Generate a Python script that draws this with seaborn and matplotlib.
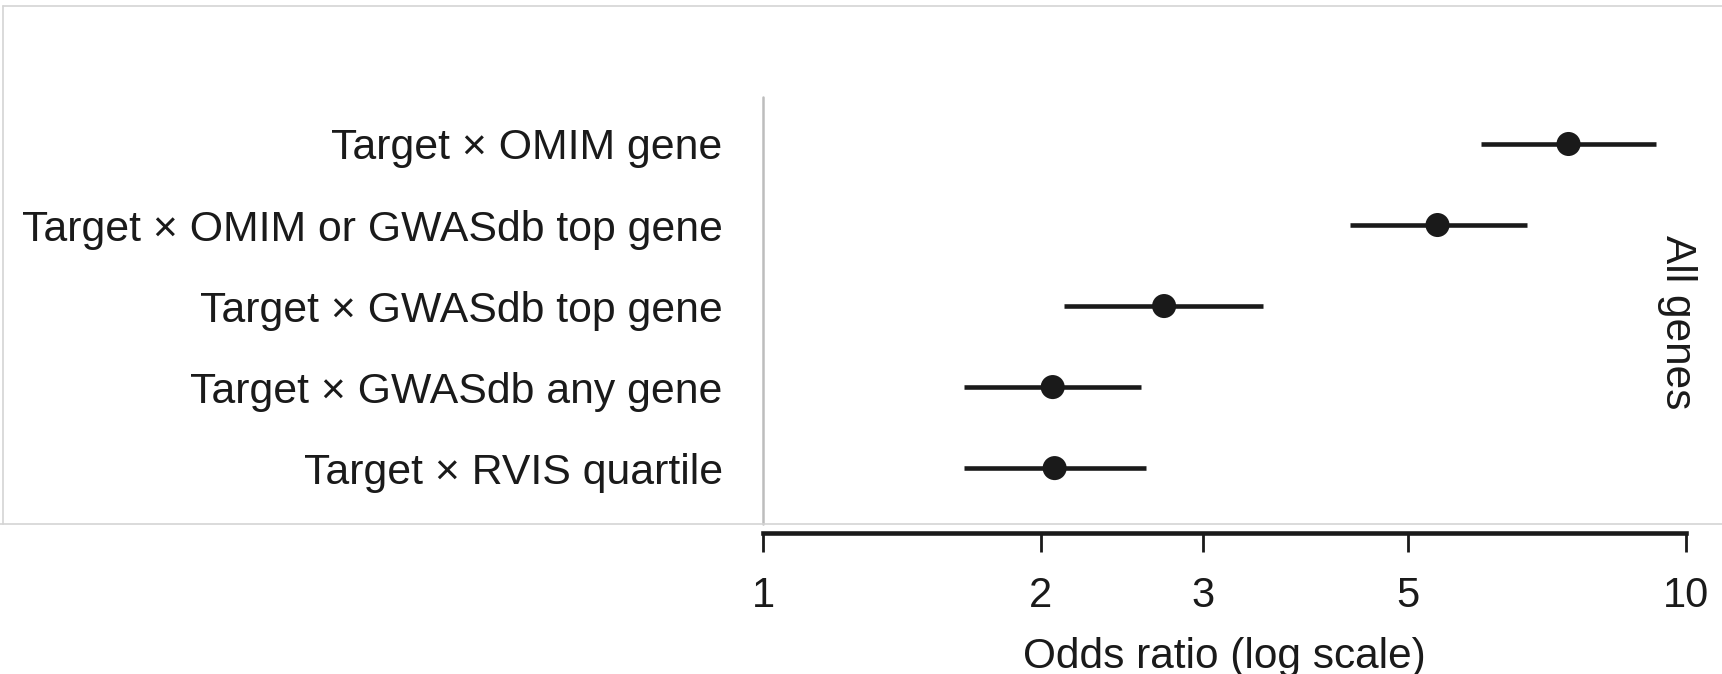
import matplotlib
matplotlib.use("Agg")
import matplotlib.pyplot as plt
import seaborn as sns
import pandas as pd
from matplotlib.lines import Line2D
from matplotlib.ticker import NullLocator

# ---- data ----
labels = [
    "Target \u00d7 OMIM gene",
    "Target \u00d7 OMIM or GWASdb top gene",
    "Target \u00d7 GWASdb top gene",
    "Target \u00d7 GWASdb any gene",
    "Target \u00d7 RVIS quartile",
]
odds = [7.46, 5.38, 2.72, 2.06, 2.07]
ci_low = [6.00, 4.32, 2.12, 1.65, 1.65]
ci_high = [9.29, 6.72, 3.48, 2.57, 2.60]
tick_values = [1, 2, 3, 5, 10]
tick_labels = ["1", "2", "3", "5", "10"]
x_title = "Odds ratio (log scale)"
facet_label = "All genes"

sns.set_style("white")
plt.rcParams["font.family"] = ["Liberation Sans", "DejaVu Sans"]

W, H = 1722, 674
fig = plt.figure(figsize=(W / 100, H / 100), dpi=100)
fig.patch.set_facecolor("white")

top_px, bot_px, left_px, right_px = 97, 524, 763, 1686
ax = fig.add_axes([left_px / W, 1 - bot_px / H, (right_px - left_px) / W, (bot_px - top_px) / H])
ax.set_facecolor("none")
ax.set_xscale("log")

df = pd.DataFrame({"label": labels, "odds": odds, "lo": ci_low, "hi": ci_high})

ink = "#1a1a1a"
sns.scatterplot(data=df, x="odds", y="label", s=300, color=ink, edgecolor="none",
                ax=ax, zorder=3, legend=False)
ax.hlines(y=df["label"], xmin=df["lo"], xmax=df["hi"], color=ink, lw=3.3, zorder=2)
ax.axvline(1, color="#bdbdbd", lw=1.8, clip_on=False, zorder=1)

ax.set_xlim(1, 10)
ax.set_ylim(4.69, -0.58)
ax.set_xticks(tick_values, tick_labels)
ax.xaxis.set_minor_locator(NullLocator())

for s in ["top", "right", "left"]:
    ax.spines[s].set_visible(False)
ax.spines["bottom"].set_position(("outward", 6.5))
ax.spines["bottom"].set_linewidth(3.3)
ax.spines["bottom"].set_color(ink)
ax.spines["bottom"].set_capstyle("projecting")

ax.tick_params(axis="x", which="major", bottom=True, direction="out", length=14, width=2,
               color=ink, labelsize=30, pad=17, labelcolor=ink)
ax.tick_params(axis="y", left=False, length=0, pad=29, labelsize=30.8, labelcolor=ink)
ax.set_ylabel("")
ax.set_xlabel(x_title, fontsize=30.5, color=ink, labelpad=15)

# panel border (light gray)
bc = "#d4d4d4"
fig.add_artist(Line2D([3 / W, 1], [1 - 6 / H, 1 - 6 / H], transform=fig.transFigure, color=bc, lw=1.2))
fig.add_artist(Line2D([3 / W, 3 / W], [1 - 6 / H, 1 - 524 / H], transform=fig.transFigure, color=bc, lw=1.2))
fig.add_artist(Line2D([0, 1], [1 - 524 / H, 1 - 524 / H], transform=fig.transFigure, color=bc, lw=1.2))

fig.text(1677 / W, 1 - 322 / H, facet_label, rotation=-90, ha="center", va="center",
         fontsize=30.5, color=ink)

fig.savefig("out.png", dpi=100)
